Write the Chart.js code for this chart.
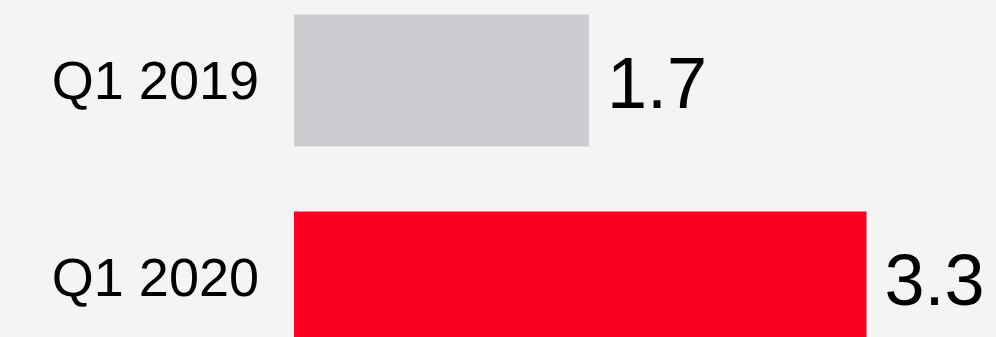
<!DOCTYPE html>
<html>
<head>
<meta charset="utf-8">
<script src="https://cdn.jsdelivr.net/npm/chart.js@4/dist/chart.umd.min.js"></script>
<style>
  html, body { margin: 0; padding: 0; background: #f4f4f4; overflow: hidden; }
  body { width: 996px; height: 337px; position: relative; }
  #wrap { position: absolute; left: 0; top: -18px; width: 996px; height: 394px; }
</style>
</head>
<body>
<div id="wrap"><canvas id="chart"></canvas></div>
<script>
const quarters = ["Q1 2019", "Q1 2020"];
const values = [1.7, 3.3];
const barColors = ["#cccdd1", "#fd0021"];

/* value text at the end of each bar */
const valueLabels = {
  id: "valueLabels",
  afterDatasetsDraw(chart) {
    const ctx = chart.ctx;
    const meta = chart.getDatasetMeta(0);
    ctx.save();
    ctx.font = "72px 'Liberation Sans', Arial, sans-serif";
    ctx.fillStyle = "#000";
    ctx.textAlign = "left";
    ctx.textBaseline = "alphabetic";
    meta.data.forEach((bar, i) => {
      ctx.fillText(String(values[i]), bar.x + 18, bar.y + 27);
    });
    ctx.restore();
  }
};

new Chart(document.getElementById("chart"), {
  type: "bar",
  data: {
    labels: quarters,
    datasets: [{
      data: values,
      backgroundColor: barColors,
      categoryPercentage: 1,
      barPercentage: 0.67
    }]
  },
  options: {
    indexAxis: "y",
    responsive: true,
    maintainAspectRatio: false,
    animation: false,
    layout: { padding: { left: 0, right: 8, top: 0, bottom: 0 } },
    plugins: {
      legend: { display: false },
      tooltip: { enabled: false }
    },
    scales: {
      x: {
        display: false,
        min: 0,
        max: 4
      },
      y: {
        // fixed label column, no extra room above/below the bars
        afterFit(scale) {
          scale.width = 294;
          scale.paddingTop = 0;
          scale.paddingBottom = 0;
        },
        grid: { display: false, drawTicks: false },
        border: { display: false },
        ticks: {
          color: "#000",
          padding: 35,
          labelOffset: 4,
          font: { family: "'Liberation Sans', Arial, sans-serif", size: 54 }
        }
      }
    }
  },
  plugins: [valueLabels]
});
</script>
</body>
</html>
